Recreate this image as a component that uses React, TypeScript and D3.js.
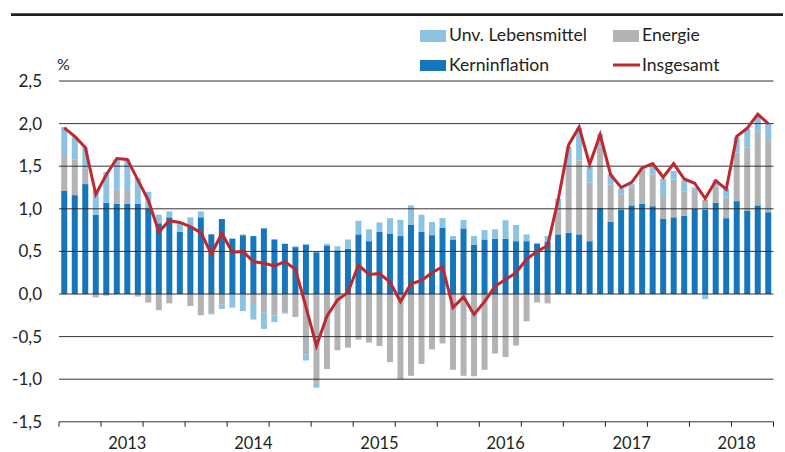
import React from "react";
import * as d3 from "d3";

const months: Date[] = d3.timeMonths(new Date(2013, 0, 1), new Date(2018, 8, 1));
const years = [2013, 2014, 2015, 2016, 2017, 2018];
const yTicks = [-1.5, -1.0, -0.5, 0, 0.5, 1.0, 1.5, 2.0, 2.5];

const core = [
  1.21, 1.16, 1.29, 0.93, 1.07, 1.06, 1.06, 1.06, 1.0, 0.83, 0.9, 0.73,
  0.8, 0.9, 0.7, 0.88, 0.65, 0.69, 0.68, 0.77, 0.64, 0.59, 0.55, 0.58,
  0.49, 0.57, 0.51, 0.53, 0.7, 0.62, 0.73, 0.71, 0.68, 0.81, 0.73, 0.69,
  0.78, 0.64, 0.77, 0.58, 0.64, 0.65, 0.65, 0.62, 0.62, 0.59, 0.61, 0.7,
  0.72, 0.7, 0.62, 1.01, 0.85, 0.99, 1.04, 1.06, 1.03, 0.88, 0.9, 0.92,
  1.0, 0.99, 1.07, 0.89, 1.09, 0.98, 1.04, 0.96,
];
const energy = [
  0.41, 0.42, 0.18, -0.04, -0.02, 0.17, 0.16, -0.03, -0.1, -0.19, -0.11, 0.0,
  -0.14, -0.25, -0.23, -0.125, -0.01, 0.01, -0.105, -0.22, -0.25, -0.22, -0.27, -0.71,
  -1.04, -0.88, -0.66, -0.63, -0.535, -0.57, -0.61, -0.8, -1.0, -0.96, -0.82, -0.65,
  -0.58, -0.89, -0.96, -0.965, -0.89, -0.7, -0.74, -0.605, -0.32, -0.1, -0.11, 0.27,
  0.76, 0.87, 0.69, 0.71, 0.435, 0.18, 0.21, 0.4, 0.375, 0.28, 0.445, 0.285,
  0.21, 0.115, 0.19, 0.245, 0.57, 0.74, 0.87, 0.85,
];
const food = [
  0.34, 0.27, 0.25, 0.29, 0.36, 0.34, 0.36, 0.3, 0.2, 0.1, 0.07, 0.1,
  0.1, 0.07, -0.01, -0.05, -0.15, -0.2, -0.195, -0.19, -0.08, -0.01, 0.01, -0.07,
  -0.06, 0.02, 0.05, 0.11, 0.16, 0.14, 0.11, 0.18, 0.19, 0.23, 0.2, 0.155,
  0.11, 0.04, 0.1, 0.1, 0.11, 0.11, 0.215, 0.19, 0.08, 0.01, 0.07, 0.15,
  0.25, 0.38, 0.19, 0.16, 0.12, 0.07, 0.04, 0.02, 0.085, 0.195, 0.1, 0.13,
  0.04, -0.06, 0.08, 0.105, 0.18, 0.22, 0.18, 0.19,
];
const headline = [
  1.95, 1.85, 1.72, 1.17, 1.4, 1.59, 1.58, 1.34, 1.1, 0.73, 0.86, 0.84,
  0.79, 0.72, 0.47, 0.71, 0.49, 0.5, 0.38, 0.36, 0.33, 0.38, 0.29, -0.15,
  -0.61, -0.26, -0.07, 0.02, 0.34, 0.23, 0.24, 0.14, -0.09, 0.12, 0.16, 0.25,
  0.32, -0.16, -0.035, -0.24, -0.09, 0.09, 0.17, 0.25, 0.41, 0.5, 0.57, 1.1,
  1.75, 1.96, 1.52, 1.87, 1.4, 1.25, 1.31, 1.48, 1.53, 1.37, 1.53, 1.35,
  1.3, 1.12, 1.33, 1.23, 1.85, 1.945, 2.11, 2.0,
];

const seriesNames = ["Unv. Lebensmittel", "Energie", "Kerninflation", "Insgesamt"];
const COL_CORE = "#1576bb";
const COL_FOOD = "#8cc3e2";
const COL_ENERGY = "#b1b3b4";
const COL_LINE = "#be282e";
const INK = "#231f20";
const FONT = "Lato, 'Open Sans', sans-serif";

export default function App() {
  const W = 785;
  const H = 452;
  const left = 59;
  const right = 773.5;
  const x = d3
    .scaleBand<number>()
    .domain(d3.range(months.length))
    .range([left, right])
    .paddingInner(0.43)
    .paddingOuter(0.215);
  const step = x.step();
  const y = d3.scaleLinear().domain([-1.5, 2.5]).range([421.8, 81]);
  const cx = (i: number) => (x(i) as number) + x.bandwidth() / 2;
  const fmt = (v: number) => d3.format(".1f")(v).replace(".", ",").replace("−", "-");

  // stacking: positives from 0 up (core, energy, food), negatives from 0 down (energy, food)
  const rects: { x: number; y: number; h: number; c: string; k: string }[] = [];
  months.forEach((_, i) => {
    let pos = 0;
    let neg = 0;
    const parts: [number, string, string][] = [
      [core[i], COL_CORE, "c"],
      [energy[i], COL_ENERGY, "e"],
      [food[i], COL_FOOD, "f"],
    ];
    parts.forEach(([v, c, k]) => {
      if (v >= 0) {
        const y0 = y(pos);
        const y1 = y(pos + v);
        rects.push({ x: x(i) as number, y: y1, h: y0 - y1, c, k: k + i });
        pos += v;
      } else {
        const y0 = y(neg);
        const y1 = y(neg + v);
        rects.push({ x: x(i) as number, y: y0, h: y1 - y0, c, k: k + i });
        neg += v;
      }
    });
  });

  const line = d3
    .line<number>()
    .x((_, i) => cx(i))
    .y((d) => y(d))
    .curve(d3.curveLinear);

  const tickIdx = d3.range(0, months.length + 1, 4);

  return (
    <svg
      width={W}
      height={H}
      style={{ position: "absolute", left: 0, top: 0, background: "#fff" }}
      fontFamily={FONT}
    >
      <line x1={11} x2={783} y1={14.7} y2={14.7} stroke={INK} strokeWidth={2.7} />

      {/* legend */}
      <rect x={420} y={30} width={26} height={12} fill={COL_FOOD} />
      <text x={449} y={40.5} fontSize={17.6} fill={INK}>{seriesNames[0]}</text>
      <rect x={613} y={30} width={26} height={12} fill={COL_ENERGY} />
      <text x={642} y={40.5} fontSize={17.6} fill={INK}>{seriesNames[1]}</text>
      <rect x={420} y={60} width={26} height={11} fill={COL_CORE} />
      <text x={449} y={70.5} fontSize={17.6} fill={INK}>{seriesNames[2]}</text>
      <line x1={613} x2={640} y1={65} y2={65} stroke={COL_LINE} strokeWidth={3} />
      <text x={642} y={70.5} fontSize={17.6} fill={INK}>{seriesNames[3]}</text>

      <text x={57} y={70} fontSize={16} fill={INK}>%</text>

      {/* bars */}
      {rects.map((r) => (
        <rect key={r.k} x={r.x} y={r.y} width={x.bandwidth()} height={Math.max(0, r.h)} fill={r.c} />
      ))}

      {/* grid */}
      {yTicks.map((t) => (
        <g key={t}>
          <line x1={left} x2={right} y1={y(t)} y2={y(t)} stroke={INK} strokeWidth={1} opacity={0.9} />
          <text x={42} y={y(t) + 6} fontSize={17} textAnchor="end" fill={INK}>
            {fmt(t)}
          </text>
        </g>
      ))}

      {/* x axis ticks */}
      {tickIdx.map((k) => (
        <line key={k} x1={left + k * step} x2={left + k * step} y1={y(-1.5)} y2={y(-1.5) + 5} stroke={INK} strokeWidth={1} />
      ))}
      {years.map((yr) => {
        const idx = months.map((m, i) => [m, i] as [Date, number]).filter(([m]) => m.getFullYear() === yr).map(([, i]) => i);
        const mid = idx[Math.floor(idx.length / 2)];
        return (
          <text key={yr} x={cx(mid)} y={448.5} fontSize={16.5} textAnchor="middle" fill={INK}>
            {yr}
          </text>
        );
      })}

      <path d={line(headline) || ""} fill="none" stroke={COL_LINE} strokeWidth={3} strokeLinejoin="miter" />
    </svg>
  );
}
